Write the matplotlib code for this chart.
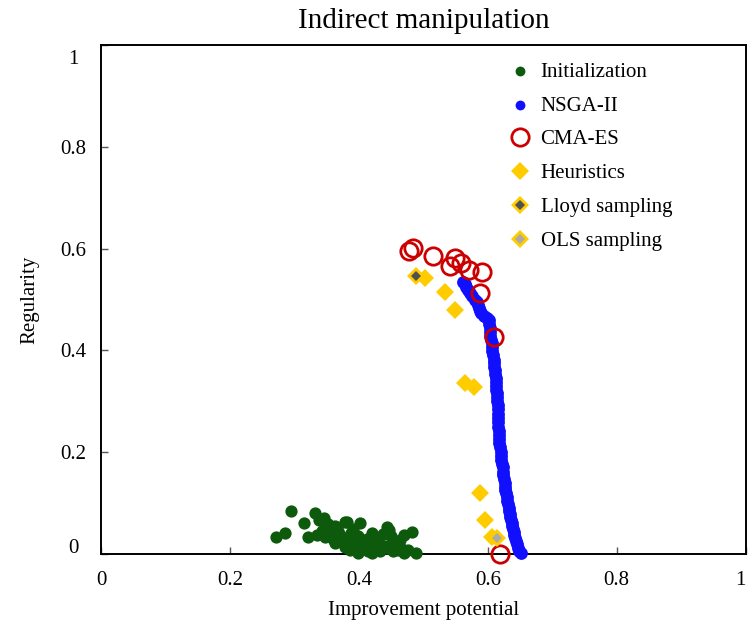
import matplotlib
matplotlib.use("Agg")
import matplotlib.pyplot as plt
from matplotlib.transforms import ScaledTranslation
from matplotlib.legend_handler import HandlerTuple

plt.rcParams['font.family'] = ['Liberation Serif', 'DejaVu Serif']

title = "Indirect manipulation"
xlabel = "Improvement potential"
ylabel = "Regularity"
ticks = [0, 0.2, 0.4, 0.6, 0.8, 1]
tick_labels = ["0", "0.2", "0.4", "0.6", "0.8", "1"]

init_x = [0.294, 0.271, 0.285, 0.315, 0.332, 0.337, 0.346, 0.321, 0.334, 0.347,
          0.357, 0.378, 0.363, 0.378, 0.386, 0.381, 0.401, 0.388, 0.420, 0.443,
          0.482, 0.469, 0.456, 0.430, 0.409, 0.445, 0.461, 0.476, 0.489, 0.432,
          0.414, 0.394, 0.368, 0.355, 0.362, 0.370, 0.373, 0.383, 0.392, 0.398,
          0.405, 0.418, 0.425, 0.437, 0.450, 0.440, 0.452, 0.466, 0.470, 0.398,
          0.420, 0.360, 0.342, 0.352, 0.391, 0.412, 0.463, 0.447]
init_y = [0.084, 0.034, 0.041, 0.061, 0.080, 0.067, 0.070, 0.034, 0.037, 0.034,
          0.047, 0.063, 0.021, 0.014, 0.008, 0.063, 0.060, 0.041, 0.041, 0.054,
          0.044, 0.037, 0.024, 0.028, 0.021, 0.011, 0.008, 0.008, 0.001, 0.005,
          0.005, 0.014, 0.045, 0.040, 0.055, 0.038, 0.030, 0.030, 0.025, 0.035,
          0.010, 0.015, 0.020, 0.040, 0.035, 0.016, 0.005, 0.010, 0.002, 0.002,
          0.002, 0.030, 0.046, 0.058, 0.050, 0.030, 0.028, 0.048]

nsga_x = [0.562, 0.564, 0.566, 0.569, 0.572, 0.576, 0.580, 0.583, 0.585, 0.586,
          0.588, 0.590, 0.594, 0.598, 0.601, 0.602, 0.603, 0.604, 0.604, 0.605,
          0.606, 0.606, 0.607, 0.608, 0.609, 0.609, 0.610, 0.611, 0.611, 0.612,
          0.612, 0.613, 0.613, 0.614, 0.614, 0.614, 0.615, 0.615, 0.615, 0.616,
          0.616, 0.616, 0.617, 0.617, 0.618, 0.618, 0.619, 0.620, 0.621, 0.621,
          0.622, 0.623, 0.623, 0.624, 0.625, 0.626, 0.627, 0.627, 0.628, 0.629,
          0.630, 0.631, 0.632, 0.633, 0.634, 0.635, 0.636, 0.637, 0.638, 0.639,
          0.640, 0.641, 0.642, 0.644, 0.645, 0.647, 0.649, 0.651]
nsga_y = [0.535, 0.530, 0.524, 0.518, 0.512, 0.506, 0.500, 0.496, 0.490, 0.484,
          0.478, 0.473, 0.468, 0.463, 0.460, 0.452, 0.444, 0.436, 0.428, 0.420,
          0.414, 0.406, 0.398, 0.390, 0.382, 0.375, 0.368, 0.361, 0.353, 0.345,
          0.337, 0.330, 0.322, 0.316, 0.308, 0.300, 0.292, 0.284, 0.276, 0.268,
          0.260, 0.250, 0.242, 0.234, 0.226, 0.218, 0.210, 0.200, 0.192, 0.185,
          0.177, 0.170, 0.162, 0.155, 0.147, 0.140, 0.132, 0.125, 0.119, 0.112,
          0.105, 0.098, 0.091, 0.085, 0.079, 0.073, 0.067, 0.061, 0.055, 0.049,
          0.043, 0.037, 0.031, 0.025, 0.019, 0.012, 0.006, 0.001]

cma_x = [0.478, 0.484, 0.515, 0.549, 0.558, 0.541, 0.571, 0.591, 0.587, 0.609, 0.619]
cma_y = [0.595, 0.601, 0.585, 0.582, 0.572, 0.566, 0.558, 0.554, 0.513, 0.426, 0.000]

heur_x = [0.503, 0.534, 0.549, 0.564, 0.579, 0.587, 0.595, 0.606]
heur_y = [0.542, 0.515, 0.479, 0.335, 0.329, 0.119, 0.067, 0.034]

lloyd_x = [0.488]
lloyd_y = [0.546]

ols_x = [0.614]
ols_y = [0.031]

GREEN = "#0d5a0d"
BLUE = "#1010ff"
RED = "#cc0000"
GOLD = "#ffcc00"
DGRAY = "#505050"
LGRAY = "#aaaaaa"

fig = plt.figure(figsize=(7.49, 6.30), dpi=100)
ax = fig.add_axes([101.5 / 749, 76 / 630, 644 / 749, 509 / 630])

h_init = ax.scatter(init_x, init_y, s=78, color=GREEN, linewidths=0, clip_on=False, zorder=3)
h_nsga = ax.scatter(nsga_x, nsga_y, s=85, color=BLUE, linewidths=0, clip_on=False, zorder=3)
h_cma, = ax.plot(cma_x, cma_y, linestyle='none', marker='o', markersize=12.5,
                 markerfacecolor='none', markeredgecolor=RED, markeredgewidth=2.0,
                 clip_on=False, zorder=4)
h_heur, = ax.plot(heur_x, heur_y, linestyle='none', marker='D', markersize=9,
                  color=GOLD, markeredgewidth=0, clip_on=False, zorder=5)
h_lloyd_o, = ax.plot(lloyd_x, lloyd_y, linestyle='none', marker='D', markersize=9,
                     color=GOLD, markeredgewidth=0, clip_on=False, zorder=5)
h_lloyd_i, = ax.plot(lloyd_x, lloyd_y, linestyle='none', marker='D', markersize=5,
                     color=DGRAY, markeredgewidth=0, clip_on=False, zorder=6)
h_ols_o, = ax.plot(ols_x, ols_y, linestyle='none', marker='D', markersize=9,
                   color=GOLD, markeredgewidth=0, clip_on=False, zorder=5)
h_ols_i, = ax.plot(ols_x, ols_y, linestyle='none', marker='D', markersize=5,
                   color=LGRAY, markeredgewidth=0, clip_on=False, zorder=6)

ax.set_xlim(0, 1)
ax.set_ylim(0, 1)
ax.set_xticks(ticks)
ax.set_xticklabels(tick_labels)
ax.set_yticks(ticks)
ax.set_yticklabels(tick_labels)
ax.tick_params(axis='both', direction='in', length=5, width=1, colors='#555555',
               labelcolor='black', labelsize=15)
ax.tick_params(axis='x', pad=12)
ax.tick_params(axis='y', pad=20.5)
for lab in ax.get_yticklabels():
    lab.set_horizontalalignment('center')
for sp in ax.spines.values():
    sp.set_linewidth(1.4)
    sp.set_color('black')

ylabs = ax.get_yticklabels()
ylabs[-1].set_transform(ylabs[-1].get_transform() + ScaledTranslation(0, -12 / 100, fig.dpi_scale_trans))
ylabs[0].set_transform(ylabs[0].get_transform() + ScaledTranslation(0, 8 / 100, fig.dpi_scale_trans))
xlabs = ax.get_xticklabels()
xlabs[-1].set_transform(xlabs[-1].get_transform() + ScaledTranslation(-5 / 100, 0, fig.dpi_scale_trans))

ax.set_title(title, fontsize=21, pad=12)
ax.set_xlabel(xlabel, fontsize=15, labelpad=8)
ax.set_ylabel(ylabel, fontsize=15, labelpad=15)

leg = ax.legend([h_init, h_nsga, h_cma, h_heur, (h_lloyd_o, h_lloyd_i), (h_ols_o, h_ols_i)],
                ["Initialization", "NSGA-II", "CMA-ES", "Heuristics", "Lloyd sampling", "OLS sampling"],
                handler_map={tuple: HandlerTuple(ndivide=1, pad=0)},
                loc='upper left', bbox_to_anchor=(0.622, 0.983), frameon=False,
                fontsize=15, handlelength=0.9, handletextpad=0.55, labelspacing=0.69,
                borderaxespad=0, markerscale=1.0, scatterpoints=1)
for h in leg.legend_handles[:2]:
    h.set_sizes([50])

fig.savefig("out.png", dpi=100)
